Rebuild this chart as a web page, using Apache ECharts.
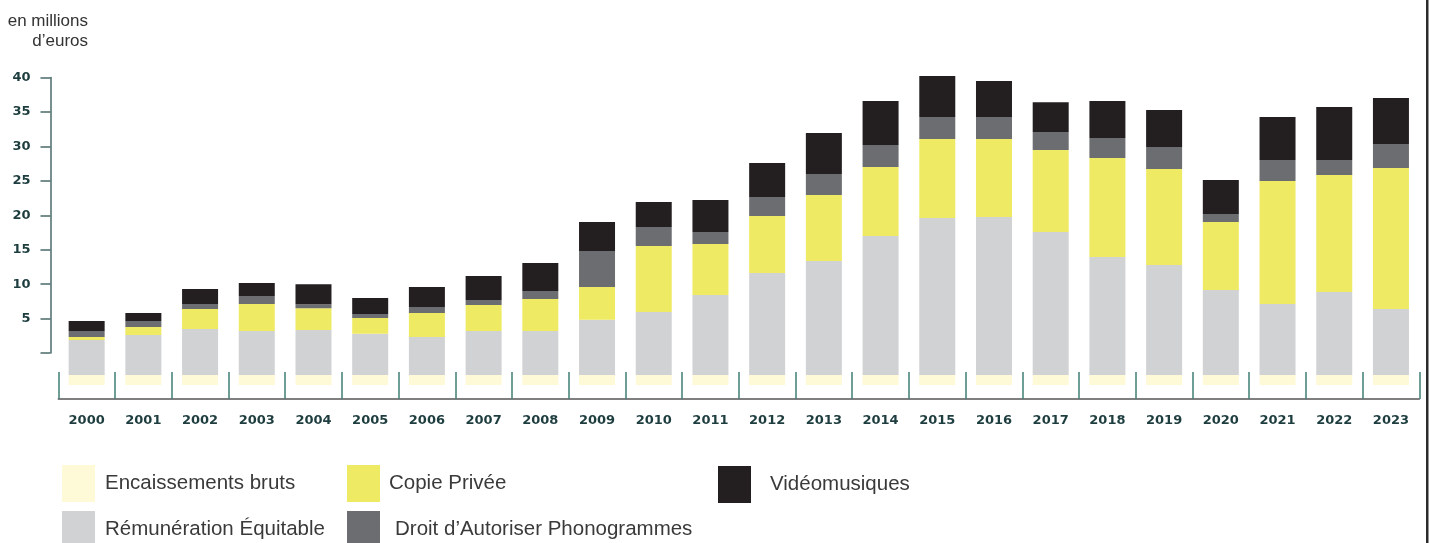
<!DOCTYPE html>
<html>
<head>
<meta charset="utf-8">
<script src="https://cdn.jsdelivr.net/npm/echarts@6/dist/echarts.min.js"></script>
<style>
html,body{margin:0;padding:0;background:#fff;}
#chart{width:1429px;height:543px;}
</style>
</head>
<body>
<div id="chart"></div>
<script>
const years = ['2000','2001','2002','2003','2004','2005','2006','2007','2008','2009','2010','2011','2012','2013','2014','2015','2016','2017','2018','2019','2020','2021','2022','2023'];
const encaissementsBruts = [-1.45,-1.45,-1.45,-1.45,-1.45,-1.45,-1.45,-1.45,-1.45,-1.45,-1.45,-1.45,-1.45,-1.45,-1.45,-1.45,-1.45,-1.45,-1.45,-1.45,-1.45,-1.45,-1.45,-1.45];
const remunerationEquitable = [5.08,5.81,6.68,6.39,6.53,6.00,5.52,6.39,6.39,8.03,9.14,11.61,14.80,16.55,20.17,22.79,22.93,20.75,17.13,15.97,12.34,10.30,12.05,9.58];
const copiePrivee = [0.44,1.16,2.90,3.92,3.15,2.27,3.48,3.77,4.64,4.74,9.58,7.40,8.27,9.58,10.01,11.47,11.32,11.90,14.37,13.93,9.87,17.85,16.98,20.46];
const droitAutoriser = [0.87,0.87,0.73,1.16,0.58,0.58,0.87,0.73,1.16,5.22,2.76,1.74,2.76,3.05,3.19,3.19,3.19,2.61,2.90,3.19,1.16,3.05,2.18,3.48];
const videomusiques = [1.45,1.16,2.18,1.89,2.90,2.32,2.90,3.48,4.06,4.21,3.63,4.64,4.93,5.95,6.39,5.95,5.22,4.35,5.37,5.37,4.93,6.24,7.69,6.68];
const yTickValues = [0,5,10,15,20,25,30,35,40];

const names = {
  enc: 'Encaissements bruts',
  rem: 'Rémunération Équitable',
  cp: 'Copie Privée',
  dap: 'Droit d\u2019Autoriser Phonogrammes',
  vid: 'Vidéomusiques'
};
const colors = {
  enc: '#fef9d6',
  rem: '#d1d2d4',
  cp: '#efea63',
  dap: '#6c6d70',
  vid: '#231f20'
};

const chart = echarts.init(document.getElementById('chart'), null, {renderer: 'canvas'});

function legendItem(key, left, top, pad) {
  return {
    show: true,
    left: left, top: top,
    orient: 'horizontal',
    padding: 0,
    itemWidth: 33, itemHeight: 37,
    icon: 'rect',
    selectedMode: false,
    data: [{name: names[key], icon: 'rect'}],
    textStyle: {fontFamily: 'Liberation Sans', fontSize: 20.5, color: '#3a3a3a', padding: [4,0,0,pad]}
  };
}

const labelFont = {fontFamily: 'DejaVu Sans', fontWeight: 'bold', fontSize: 13, color: '#1e3d3f'};

chart.setOption({
  animation: false,
  backgroundColor: '#ffffff',
  grid: [
    {left: 58.3, right: 9.7, top: 65, bottom: 158, containLabel: false},
    {left: 50.5, width: 10, top: 77.5, bottom: 190, containLabel: false}
  ],
  xAxis: [
    {
      type: 'category', gridIndex: 0, data: years, boundaryGap: true,
      position: 'bottom',
      offset: 14,
      axisLine: {show: true, onZero: false, lineStyle: {color: '#555', width: 1.5}},
      axisTick: {show: true, inside: true, length: 27, alignWithLabel: false, lineStyle: {color: '#3f7f74', width: 1.5}},
      axisLabel: Object.assign({margin: 15}, labelFont),
      splitLine: {show: false}
    },
    {type: 'value', gridIndex: 1, show: false}
  ],
  yAxis: [
    {type: 'value', gridIndex: 0, min: -1.45, max: 45, show: false, splitLine: {show: false}},
    {
      type: 'value', gridIndex: 1, min: 0, max: 40, interval: 5, position: 'left',
      axisLine: {show: true, lineStyle: {color: '#4a6a6a', width: 1.5}},
      axisTick: {show: true, inside: false, length: 10, lineStyle: {color: '#4a6a6a', width: 1.5}, customValues: yTickValues},
      axisLabel: Object.assign({margin: 20, formatter: v => v === 0 ? '' : String(v)}, labelFont),
      splitLine: {show: false}
    }
  ],
  legend: [
    legendItem('enc', 62, 465, 5),
    legendItem('cp', 347, 465, 4),
    legendItem('vid', 718, 466, 14),
    legendItem('rem', 62, 511, 5),
    legendItem('dap', 347, 511, 10)
  ],
  series: [
    {name: names.enc, type: 'bar', xAxisIndex: 0, yAxisIndex: 0, data: encaissementsBruts, barWidth: 36, barGap: '-100%', itemStyle: {color: colors.enc}},
    {name: names.rem, type: 'bar', stack: 'total', xAxisIndex: 0, yAxisIndex: 0, data: remunerationEquitable, barWidth: 36, barGap: '-100%', itemStyle: {color: colors.rem}},
    {name: names.cp, type: 'bar', stack: 'total', xAxisIndex: 0, yAxisIndex: 0, data: copiePrivee, barWidth: 36, barGap: '-100%', itemStyle: {color: colors.cp}},
    {name: names.dap, type: 'bar', stack: 'total', xAxisIndex: 0, yAxisIndex: 0, data: droitAutoriser, barWidth: 36, barGap: '-100%', itemStyle: {color: colors.dap}},
    {name: names.vid, type: 'bar', stack: 'total', xAxisIndex: 0, yAxisIndex: 0, data: videomusiques, barWidth: 36, barGap: '-100%', itemStyle: {color: colors.vid}}
  ],
  graphic: [
    {type: 'text', right: 1429 - 88, top: 13, style: {text: 'en millions', fontFamily: 'Liberation Sans', fontSize: 17, fill: '#333'}},
    {type: 'text', right: 1429 - 88, top: 33, style: {text: 'd\u2019euros', fontFamily: 'Liberation Sans', fontSize: 17, fill: '#333'}},
    {type: 'rect', left: 1426, top: 0, shape: {width: 2.5, height: 543}, style: {fill: '#2b2b2b'}}
  ]
});
</script>
</body>
</html>
